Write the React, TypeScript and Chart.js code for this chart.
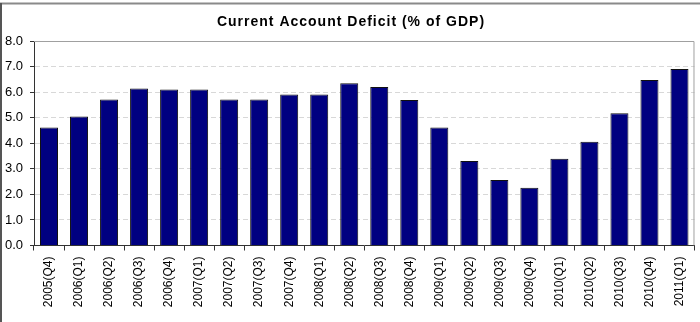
import React, { useEffect, useRef } from "react";
import { Chart, registerables } from "chart.js";

Chart.register(...registerables);

const categories = [
  "2005(Q4)", "2006(Q1)", "2006(Q2)", "2006(Q3)", "2006(Q4)", "2007(Q1)",
  "2007(Q2)", "2007(Q3)", "2007(Q4)", "2008(Q1)", "2008(Q2)", "2008(Q3)",
  "2008(Q4)", "2009(Q1)", "2009(Q2)", "2009(Q3)", "2009(Q4)", "2010(Q1)",
  "2010(Q2)", "2010(Q3)", "2010(Q4)", "2011(Q1)",
];
const deficit = [
  4.62, 5.05, 5.71, 6.14, 6.1, 6.1, 5.71, 5.71, 5.91, 5.91, 6.35, 6.2,
  5.69, 4.62, 3.31, 2.56, 2.26, 3.39, 4.06, 5.17, 6.47, 6.9,
];
const titleText = "Current Account Deficit (% of GDP)";
const FONT = 'Arial, "Liberation Sans", sans-serif';

const framePlugin = {
  id: "frame",
  beforeDraw(chart: any) {
    const { ctx, width, height } = chart;
    ctx.save();
    ctx.fillStyle = "#fff";
    ctx.fillRect(0, 0, width, height);
    ctx.restore();
  },
  afterDraw(chart: any) {
    const { ctx, chartArea, width, height } = chart;
    ctx.save();
    // outer frame
    ctx.strokeStyle = "#8a8a8a";
    ctx.lineWidth = 2;
    ctx.beginPath();
    ctx.moveTo(0, 3.5);
    ctx.lineTo(width, 3.5);
    ctx.stroke();
    ctx.strokeStyle = "#555";
    ctx.beginPath();
    ctx.moveTo(1, 3);
    ctx.lineTo(1, height);
    ctx.stroke();
    // plot area top/right border
    ctx.strokeStyle = "#a0a0a0";
    ctx.lineWidth = 1;
    ctx.beginPath();
    ctx.moveTo(chartArea.left, chartArea.top + 0.5);
    ctx.lineTo(chartArea.right - 0.5, chartArea.top + 0.5);
    ctx.lineTo(chartArea.right - 0.5, chartArea.bottom);
    ctx.stroke();
    // title
    ctx.fillStyle = "#000";
    ctx.font = `bold 14px ${FONT}`;
    (ctx as any).letterSpacing = "1px";
    ctx.textAlign = "center";
    ctx.textBaseline = "middle";
    ctx.fillText(titleText, 351, 22.5);
    ctx.restore();
  },
};

export default function App() {
  const ref = useRef<HTMLCanvasElement>(null);
  useEffect(() => {
    document.body.style.margin = "0";
    const chart = new Chart(ref.current!, {
      type: "bar",
      data: {
        labels: categories,
        datasets: [
          {
            data: deficit,
            backgroundColor: "#000080",
            borderColor: "#111",
            borderWidth: 1,
            barPercentage: 0.6,
            categoryPercentage: 1,
          },
        ],
      },
      options: {
        animation: false,
        responsive: false,
        layout: { padding: { top: 41, right: 5, left: 0, bottom: 0 } },
        plugins: {
          legend: { display: false },
          title: { display: false },
          tooltip: { enabled: false },
        },
        scales: {
          x: {
            grid: {
              offset: true,
              drawOnChartArea: false,
              drawTicks: true,
              tickLength: 5,
              tickColor: "#333",
            },
            border: { color: "#333", width: 1 },
            ticks: {
              color: "#000",
              font: { family: FONT, size: 12 },
              minRotation: 90,
              maxRotation: 90,
              padding: 6,
              autoSkip: false,
            },
            afterFit: (s: any) => {
              s.height = 76.5;
            },
          },
          y: {
            min: 0,
            max: 8,
            grid: {
              color: (c: any) =>
                c.tick && (c.tick.value === 0 || c.tick.value === 8) ? "rgba(0,0,0,0)" : "#d8d8d8",
              tickColor: "#333",
              tickLength: 4,
            },
            border: { color: "#333", width: 1, dash: [5, 3] },
            ticks: {
              stepSize: 1,
              color: "#000",
              font: { family: FONT, size: 13 },
              padding: 7,
              callback: (v: any) => Number(v).toFixed(1),
            },
            afterFit: (s: any) => {
              s.width = 34;
            },
          },
        },
      },
      plugins: [framePlugin],
    });
    return () => chart.destroy();
  }, []);
  return (
    <div style={{ position: "absolute", left: 0, top: 0, width: 700, height: 322 }}>
      <canvas ref={ref} width={700} height={322} style={{ display: "block" }} />
    </div>
  );
}
